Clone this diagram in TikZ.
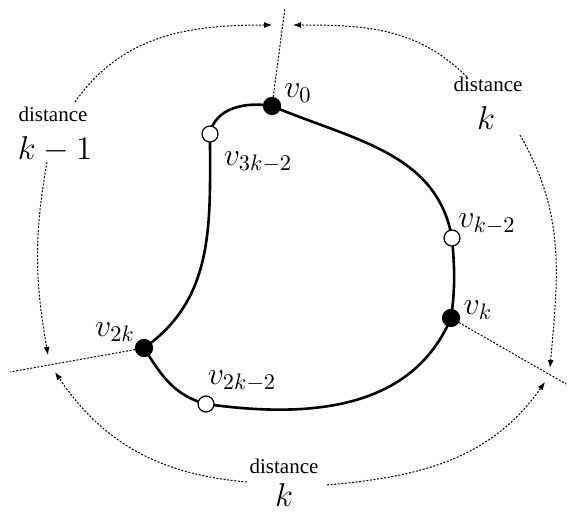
\RequirePackage{fix-cm}
\documentclass[tikz,border=0pt]{standalone}
\usepackage[no-math]{fontspec}
\newfontfamily\tnr{Liberation Serif}
\usetikzlibrary{arrows.meta}
\pgfdeclarelayer{background}
\pgfsetlayers{background,main}
\begin{document}
\begin{tikzpicture}[x=0.5pt,y=0.5pt,
 vblack/.style={circle,fill=black,draw=black,line width=0.6pt,inner sep=0pt,minimum size=8.5pt},
 vwhite/.style={circle,fill=white,draw=black,line width=0.6pt,inner sep=0pt,minimum size=8pt},
 lab/.style={inner sep=0pt,font=\fontsize{16}{19}\selectfont},
 dist/.style={inner sep=0pt,font=\fontsize{10.5}{12}\selectfont\tnr},
 big/.style={inner sep=0pt,font=\fontsize{16.5}{19}\selectfont},
 cyc/.style={line width=1.3pt},
 dots/.style={line width=0.5pt,dash pattern=on 1pt off 0.8pt},
 arr/.style={dots,-{Latex[length=4pt,width=3pt]}}]
\useasboundingbox (0,0) rectangle (568,515);

% vertices
\node[vblack] (v0)   at (272,409) {};
\node[vwhite] (v3k2) at (210,381) {};
\node[vwhite] (vk2)  at (452,277) {};
\node[vblack] (vk)   at (451,197) {};
\node[vblack] (v2k)  at (144,167) {};
\node[vwhite] (v2k2) at (206,111) {};

% vertex labels
\node[lab] (l0)   at (298,422) {$v_0$};
\node[lab] (l3k2) at (258,353) {$v_{3k-2}$};
\node[lab] (lk2)  at (487,291) {$v_{k-2}$};
\node[lab] (lk)   at (478,205) {$v_k$};
\node[lab] (l2k)  at (115,183) {$v_{2k}$};
\node[lab] (l2k2) at (242,134) {$v_{2k-2}$};

% distance labels
\node[dist] (dL) at (53,401) {distance};
\node[big]  (kL) at (55,366) {$k-1$};
\node[dist] (dR) at (488,431) {distance};
\node[big]  (kR) at (486,397) {$k$};
\node[dist] (dB) at (284,49) {distance};
\node[big]  (kB) at (284,20) {$k$};

% free ends
\coordinate (t0) at (285,507);
\coordinate (tk) at (566,131);
\coordinate (t2k) at (10,143);
\coordinate (aL1) at (75,413);
\coordinate (bL1) at (272,490);
\coordinate (aL2) at (47,353);
\coordinate (bL2) at (48,160);
\coordinate (aR1) at (467,438);
\coordinate (bR1) at (293,490);
\coordinate (aR2) at (520,380);
\coordinate (bR2) at (550,147);
\coordinate (aB1) at (247,33);
\coordinate (bB1) at (55,143);
\coordinate (aB2) at (327,30);
\coordinate (bB2) at (545,133);

\begin{pgfonlayer}{background}
\draw[cyc] (v0.center) to[out=-23,in=100] (vk2.center)
  to[out=-85,in=82] (vk.center)
  to[out=-113,in=-8] (v2k2.center)
  to[out=165,in=-58] (v2k.center)
  to[out=35,in=-90] (v3k2.center)
  to[out=80,in=170] (v0.center);
\draw[dots] (v0) -- (t0);
\draw[dots] (vk) -- (tk);
\draw[dots] (v2k) -- (t2k);
\end{pgfonlayer}

\draw[arr] (aL1) to[out=55,in=180] (bL1);
\draw[arr] (aL2) to[out=-100,in=100] (bL2);
\draw[arr] (aR1) to[out=135,in=0] (bR1);
\draw[arr] (aR2) to[out=-60,in=85] (bR2);
\draw[arr] (aB1) to[out=175,in=-56] (bB1);
\draw[arr] (aB2) to[out=5,in=-125] (bB2);
\end{tikzpicture}
\end{document}
